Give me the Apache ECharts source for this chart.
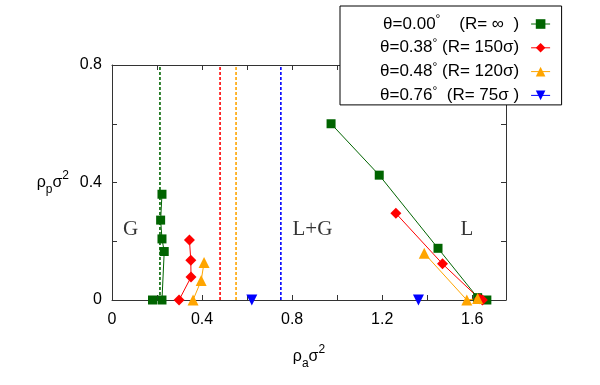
<!DOCTYPE html>
<html><head><meta charset="utf-8">
<script src="https://cdn.jsdelivr.net/npm/echarts@6/dist/echarts.min.js"></script>
<style>html,body{margin:0;padding:0;background:#fff}#c{width:600px;height:385px}</style>
</head><body><div id="c"></div>
<script>
// ---- data ----
const legendNames = ['θ=0.00', 'θ=0.38', 'θ=0.48', 'θ=0.76'];
const legendR = ['    (R= ∞  )', ' (R= 150σ)', ' (R= 120σ)', '  (R= 75σ )'];
const colors = ['#006400', '#ff0000', '#ffa500', '#0000ff'];

const green0Left = [[0.18, 0], [0.222, 0], [0.232, 0.165], [0.222, 0.208], [0.216, 0.272], [0.222, 0.36]];
const green0Right = [[0.973, 0.60], [1.187, 0.425], [1.448, 0.176], [1.624, 0.008], [1.665, 0]];
const red38Left = [[0.298, 0], [0.351, 0.078], [0.35, 0.135], [0.344, 0.204]];
const red38Right = [[1.261, 0.295], [1.468, 0.123], [1.632, 0.004], [1.645, 0]];
const orange48Left = [[0.36, 0], [0.396, 0.066], [0.409, 0.128]];
const orange48Right = [[1.387, 0.159], [1.576, 0], [1.624, 0.005]];
const blue76 = [[0.621, 0], [1.361, 0]];

const boundaryX = [0.213, 0.48, 0.551, 0.75];   // vertical dotted lines (green, red, orange, blue)
const yRange = [0, 0.8];

const regionLabels = ['G', 'L+G', 'L'];
const regionX = [0.083, 0.89, 1.576];
const regionY = [0.24, 0.24, 0.24];

const xTickLabels = [0, 0.4, 0.8, 1.2, 1.6];
const yTickLabels = [0, 0.4, 0.8];

// ---- chart ----
const FONT = 'Liberation Sans';
const axisColor = '#333';
const chart = echarts.init(document.getElementById('c'), null, {renderer: 'canvas'});

function isLabelled(v, list) { return list.some(t => Math.abs(t - v) < 1e-6); }

const symbols = ['rect', 'diamond', 'triangle', 'triangle'];
const symSizes = [9, 11, 11, 11];
const symRot = [0, 0, 0, 180];

function dataSeries(i, data, noLine) {
  return {
    name: legendNames[i], type: 'line', data: data,
    symbol: symbols[i], symbolSize: symSizes[i], symbolRotate: symRot[i],
    showSymbol: true, showAllSymbol: true,
    itemStyle: {color: colors[i]},
    lineStyle: {color: colors[i], width: 1, opacity: noLine ? 0 : 1},
    z: 5, animation: false
  };
}
const series = [];
boundaryX.forEach((x, i) => {
  series.push({
    name: 'boundary' + i, type: 'line', data: [[x, yRange[0]], [x, yRange[1]]],
    showSymbol: false, symbol: 'none', silent: true,
    lineStyle: {color: colors[i], width: 1.6, type: [3, 2]}, z: 2, animation: false
  });
});
series.push(dataSeries(0, green0Left));
series.push(dataSeries(0, green0Right));
series.push(dataSeries(1, red38Left));
series.push(dataSeries(1, red38Right));
series.push(dataSeries(2, orange48Left));
series.push(dataSeries(2, orange48Right));
series.push(dataSeries(3, blue76, true));
series.push({
  name: 'regions', type: 'scatter', symbolSize: 0, silent: true, animation: false,
  data: regionLabels.map((t, i) => ({name: t, value: [regionX[i], regionY[i]]})),
  label: {show: true, position: 'inside', formatter: '{b}', fontFamily: 'Liberation Serif', fontSize: 21, color: '#000'}
});

const nameRich = {
  t: {fontFamily: FONT, fontSize: 16, color: '#000', lineHeight: 26},
  sub: {fontFamily: FONT, fontSize: 12, color: '#000', verticalAlign: 'bottom', lineHeight: 14},
  sup: {fontFamily: FONT, fontSize: 12, color: '#000', verticalAlign: 'top', lineHeight: 14}
};

const baseAxis = {
  type: 'value', min: 0, interval: 0.2,
  axisLine: {show: true, onZero: false, lineStyle: {color: axisColor, width: 1}},
  axisTick: {show: true, inside: true, length: 5, lineStyle: {color: axisColor}},
  splitLine: {show: false}
};

chart.setOption({
  animation: false,
  backgroundColor: '#fff',
  grid: {left: 112, right: 94, top: 65, bottom: 85, containLabel: false},
  legend: {
    data: legendNames.map((n, i) => ({name: n, lineStyle: {opacity: 1, color: colors[i], width: 1}})),
    orient: 'vertical', align: 'right', left: 340, top: 6, z: 10,
    backgroundColor: '#fff',
    borderColor: '#000', borderWidth: 1, padding: [8, 11, 1, 40],
    itemWidth: 19, itemHeight: 12, itemGap: 5.3,
    formatter: function (name) {
      const i = legendNames.indexOf(name);
      return '{a|' + name + '}{s|°}{e|' + legendR[i] + '}';
    },
    textStyle: {
      fontFamily: FONT, fontSize: 17, color: '#000',
      rich: {
        a: {fontFamily: FONT, fontSize: 17, color: '#000', lineHeight: 20},
        e: {fontFamily: FONT, fontSize: 17, color: '#000', lineHeight: 20, padding: [0, 7, 0, 0]},
        s: {fontFamily: FONT, fontSize: 12, color: '#000', verticalAlign: 'top', lineHeight: 8}
      }
    }
  },
  xAxis: [
    Object.assign({}, baseAxis, {
      position: 'bottom', max: 1.75,
      name: '{t|ρ}{sub|a}{t|σ}{sup|2}', nameLocation: 'middle', nameGap: 44,
      nameTextStyle: {rich: nameRich},
      axisLabel: {show: true, margin: 12, fontFamily: FONT, fontSize: 16, color: '#000',
        showMaxLabel: false,
        formatter: v => isLabelled(v, xTickLabels) ? String(v) : ''}
    }),
    Object.assign({}, baseAxis, {position: 'top', max: 1.75, axisLabel: {show: false}})
  ],
  yAxis: [
    Object.assign({}, baseAxis, {
      position: 'left', max: 0.8,
      name: '{t|ρ}{sub|p}{t|σ}{sup|2}', nameLocation: 'middle', nameRotate: 0, nameGap: 43,
      nameTextStyle: {rich: nameRich, align: 'right'},
      axisLabel: {show: true, margin: 10, fontFamily: FONT, fontSize: 16, color: '#000',
        formatter: v => isLabelled(v, yTickLabels) ? String(v) : ''}
    }),
    Object.assign({}, baseAxis, {position: 'right', max: 0.8, axisLabel: {show: false}})
  ],
  series: series
});
</script>
</body></html>
